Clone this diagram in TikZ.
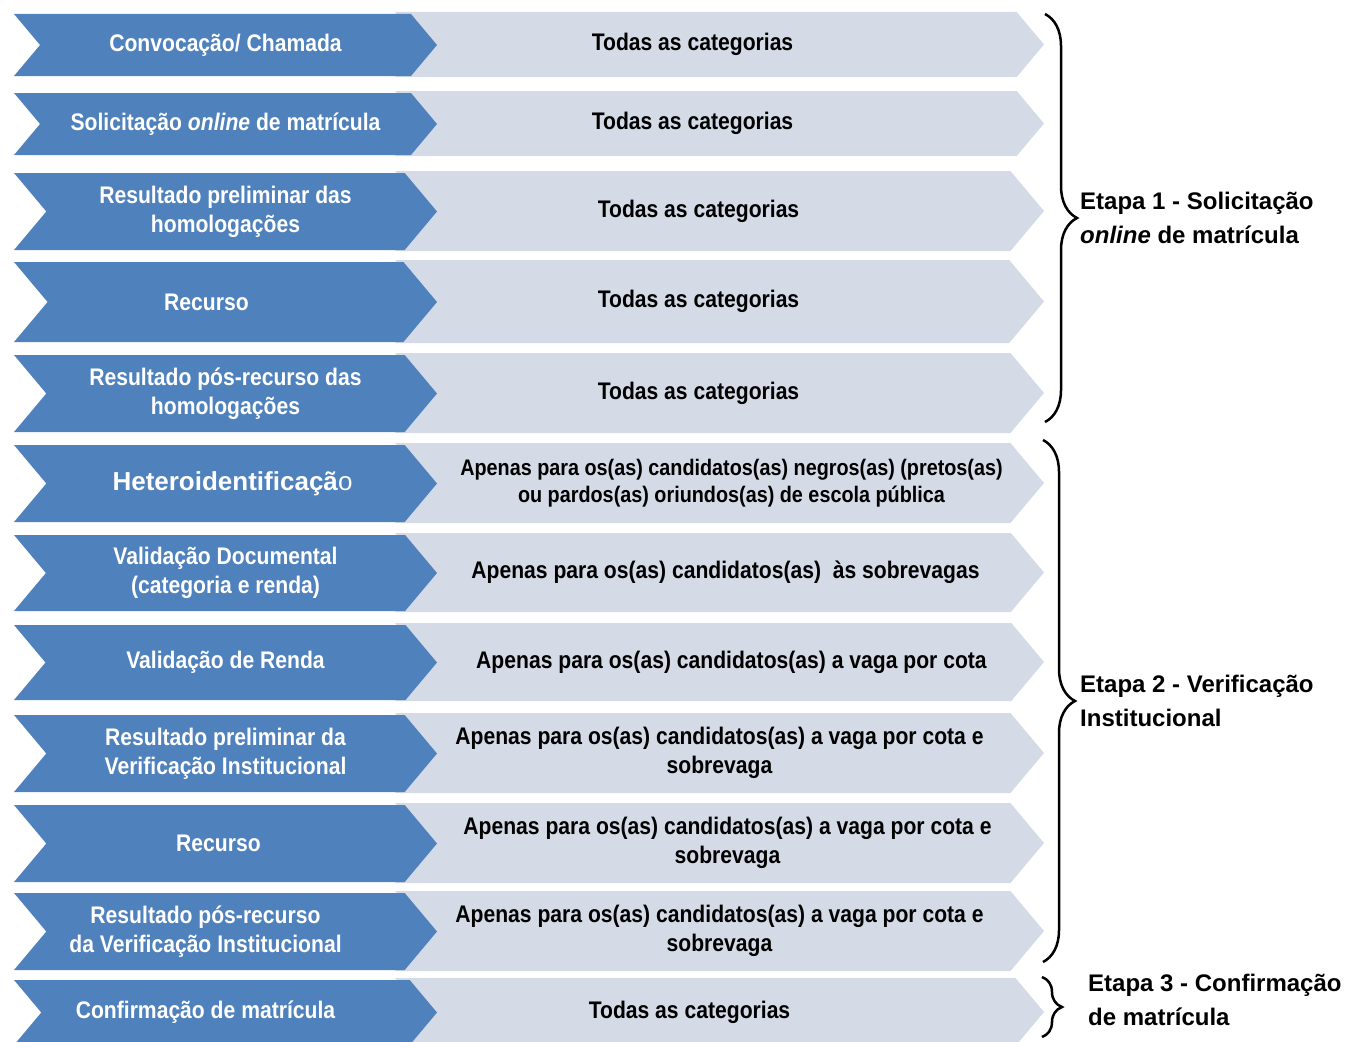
\documentclass[tikz,border=0pt]{standalone}
\usepackage{fontspec}
\setmainfont{Liberation Sans}
\newfontfamily\narrowfont{Liberation Sans}[FakeStretch=0.88]
\usetikzlibrary{shapes.symbols,decorations.pathreplacing}

\definecolor{phaseblue}{RGB}{79,129,189}
\definecolor{categgray}{RGB}{212,219,231}

\tikzset{
  phase/.style={signal, signal from=west, signal to=east, signal pointer angle=100,
    fill=phaseblue, text=white, align=center, inner sep=0pt, minimum width=423,
    font=\narrowfont\bfseries\fontsize{24}{29}\selectfont},
  categ/.style={signal, signal from=west, signal to=east, signal pointer angle=100,
    fill=categgray, text=black, align=center, inner sep=0pt, minimum width=649,
    font=\narrowfont\bfseries\fontsize{24}{29}\selectfont},
  etapa/.style={anchor=west, align=left, inner sep=0pt,
    font=\bfseries\fontsize{24}{34}\selectfont},
  etapabrace/.style={decorate, decoration={brace, amplitude=#1}, line width=2.5pt}
}

\begin{document}
\begin{tikzpicture}[x=1pt,y=-1pt]
			\useasboundingbox (0,0) rectangle (1346,1041);

			%right nodes
			\node [categ, minimum height=65] (c1) at (719.5,44.5) {Todas as categorias\hspace*{54pt}};
			\node [categ, minimum height=65] (c2) at (719.5,123.5) {Todas as categorias\hspace*{54pt}};
			\node [categ, minimum height=80] (c3) at (719.5,211) {Todas as categorias\hspace*{42pt}};
			\node [categ, minimum height=83] (c4) at (719.5,301.5) {Todas as categorias\hspace*{42pt}};
			\node [categ, minimum height=80] (c5) at (719.5,393) {Todas as categorias\hspace*{42pt}};
			\node [categ, minimum height=80, font=\narrowfont\bfseries\fontsize{22.5}{27}\selectfont] (c6) at (719.5,483) {\hspace*{24pt}Apenas para os(as) candidatos(as) negros(as) (pretos(as)\\\hspace*{24pt}ou pardos(as) oriundos(as) de escola pública};
			\node [categ, minimum height=79] (c7) at (719.5,572.5) {\hspace*{12pt}Apenas para os(as) candidatos(as) \ às sobrevagas};
			\node [categ, minimum height=78] (c8) at (719.5,662) {\hspace*{24pt}Apenas para os(as) candidatos(as) a vaga por cota};
			\node [categ, minimum height=80] (c9) at (719.5,753) {Apenas para os(as) candidatos(as) a vaga por cota e\\sobrevaga};
			\node [categ, minimum height=80] (c10) at (719.5,843) {\hspace*{16pt}Apenas para os(as) candidatos(as) a vaga por cota e\\\hspace*{16pt}sobrevaga};
			\node [categ, minimum height=80] (c11) at (719.5,931) {Apenas para os(as) candidatos(as) a vaga por cota e\\sobrevaga};
			\node [categ, minimum height=68] (c12) at (719.5,1012) {Todas as categorias\hspace*{60pt}};

			%left nodes
			\node [phase, minimum height=62] (p1) at (225.5,45) {Convocação/ Chamada};
			\node [phase, minimum height=62] (p2) at (225.5,124) {Solicitação \textit{online} de matrícula};
			\node [phase, minimum height=77] (p3) at (225.5,211.5) {Resultado preliminar das\\homologações};
			\node [phase, minimum height=80] (p4) at (225.5,302) {Recurso\hspace*{38pt}};
			\node [phase, minimum height=77] (p5) at (225.5,393.5) {Resultado pós-recurso das\\homologações};
			\node [phase, minimum height=77, font=\bfseries\fontsize{26}{30}\selectfont] (p6) at (225.5,483.5) {\hspace*{14pt}Heteroidentificaçã\textmd{o}};
			\node [phase, minimum height=76] (p7) at (225.5,573) {Validação Documental\\(categoria e renda)};
			\node [phase, minimum height=75] (p8) at (225.5,662.5) {Validação de Renda};
			\node [phase, minimum height=77] (p9) at (225.5,753.5) {Resultado preliminar da\\Verificação Institucional};
			\node [phase, minimum height=77] (p10) at (225.5,843.5) {Recurso\hspace*{14pt}};
			\node [phase, minimum height=77] (p11) at (225.5,931.5) {Resultado pós-recurso\hspace*{40pt}\\da Verificação Institucional\hspace*{40pt}};
			\node [phase, minimum height=65] (p12) at (225.5,1012.5) {Confirmação de matrícula\hspace*{40pt}};

			%braces
			\draw [etapabrace=32] (1045,14) -- (1045,422);
			\draw [etapabrace=32] (1043,440) -- (1043,962);
			\draw [etapabrace=20] (1042,977) -- (1042,1037);

			%stages
			\node [etapa] (s1) at (1080,218) {Etapa 1 - Solicitação\\\textit{online} de matrícula};
			\node [etapa] (s2) at (1080,701) {Etapa 2 - Verificação\\Institucional};
			\node [etapa] (s3) at (1088,1000) {Etapa 3 - Confirmação\\de matrícula};
		\end{tikzpicture}
\end{document}
